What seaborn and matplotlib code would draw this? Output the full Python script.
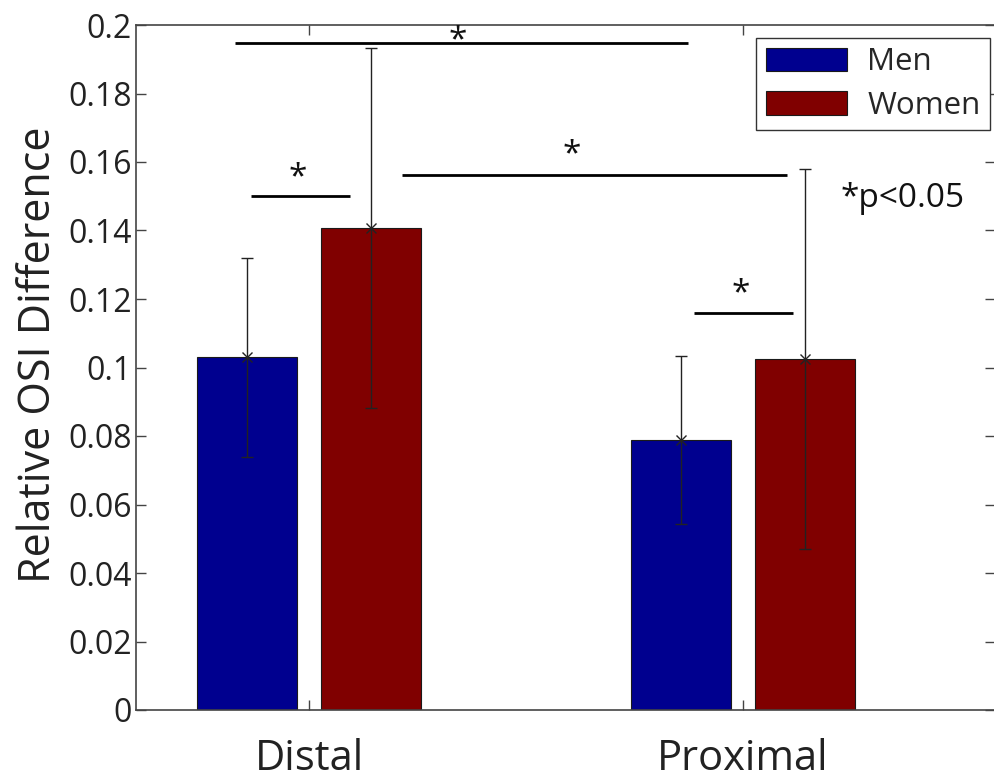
import matplotlib
matplotlib.use("Agg")
import matplotlib.pyplot as plt
import seaborn as sns
import pandas as pd

# ---- data ----
regions = ["Distal", "Proximal"]
sexes = ["Men", "Women"]
men_mean = [0.103, 0.0788]
women_mean = [0.1407, 0.1025]
men_err = [0.029, 0.0246]
women_err = [0.0526, 0.0555]
ytick_values = [0, 0.02, 0.04, 0.06, 0.08, 0.1, 0.12, 0.14, 0.16, 0.18, 0.2]
ytick_labels = ["0", "0.02", "0.04", "0.06", "0.08", "0.1", "0.12", "0.14", "0.16", "0.18", "0.2"]
ylabel = "Relative OSI Difference"
note = "*p<0.05"

# significance brackets: (x_start, x_end, y) in data units, star (x, y)
sig_lines = [(-0.1705, 0.873, 0.1947), (-0.1336, 0.0945, 0.150),
             (0.214, 1.101, 0.1562), (0.887, 1.115, 0.1159)]
sig_stars = [(0.343, 0.1955), (-0.025, 0.1555), (0.606, 0.1620), (0.995, 0.1215)]

df = pd.DataFrame({
    "region": regions * 2,
    "sex": [sexes[0]] * 2 + [sexes[1]] * 2,
    "value": men_mean + women_mean,
})
errs = {sexes[0]: men_err, sexes[1]: women_err}

sns.set_style("ticks")
FONT = ["Open Sans", "DejaVu Sans"]
plt.rcParams["font.family"] = FONT

fig = plt.figure(figsize=(9.95, 7.81), dpi=100)
ax = fig.add_axes([136 / 995, 71 / 781, 859 / 995, 685 / 781])

colors = ["#00008F", "#800000"]
sns.barplot(data=df, x="region", y="value", hue="sex", palette=colors,
            width=0.572, gap=0.2, errorbar=None, edgecolor="#1a1a1a",
            linewidth=0.8, ax=ax, saturation=1)

for cont, sx in zip(ax.containers, sexes):
    xs = [p.get_x() + p.get_width() / 2 for p in cont.patches]
    ys = [p.get_height() for p in cont.patches]
    ax.errorbar(xs, ys, yerr=errs[sx], fmt="x", color="#222222", ms=7,
                mew=1.0, elinewidth=1.0, capsize=4, capthick=1.0, zorder=5)

for x0, x1, y in sig_lines:
    ax.plot([x0, x1], [y, y], color="black", lw=2, solid_capstyle="butt", zorder=6)
for x, y in sig_stars:
    ax.text(x, y, "*", ha="center", va="center", fontsize=24, color="#111111")

ax.text(1.225, 0.1469, note, ha="left", va="baseline", fontsize=24, color="#111111")

ax.set_xlim(-0.3986, 1.5806)
ax.set_ylim(0, 0.2)
ax.set_yticks(ytick_values)
ax.set_yticklabels(ytick_labels, fontsize=23, color="#222222")
ax.set_xticks(range(len(regions)))
ax.set_xticklabels(regions, fontsize=30, color="#222222")
ax.set_xlabel("")
ax.set_ylabel(ylabel, fontsize=31, color="#222222", labelpad=5)
ax.yaxis.label.set_y(0.518)

ax.tick_params(axis="both", direction="in", length=7, width=1, color="#444444",
               top=True, right=True)
ax.tick_params(axis="x", pad=20)
ax.tick_params(axis="y", pad=3)
for s in ["left", "bottom", "top"]:
    ax.spines[s].set_color("#444444")
    ax.spines[s].set_linewidth(1.2)
ax.spines["right"].set_visible(False)

handles, labels = ax.get_legend_handles_labels()
leg = ax.legend(handles, labels, loc="upper right", bbox_to_anchor=(0.994, 0.981),
                borderaxespad=0, fontsize=22.5, frameon=True, fancybox=False,
                edgecolor="#333333", framealpha=1, handlelength=2.6,
                handleheight=0.8, handletextpad=0.65, labelspacing=0.42,
                borderpad=0.3)
leg.get_frame().set_linewidth(1.0)

fig.savefig("out.png", dpi=100)
